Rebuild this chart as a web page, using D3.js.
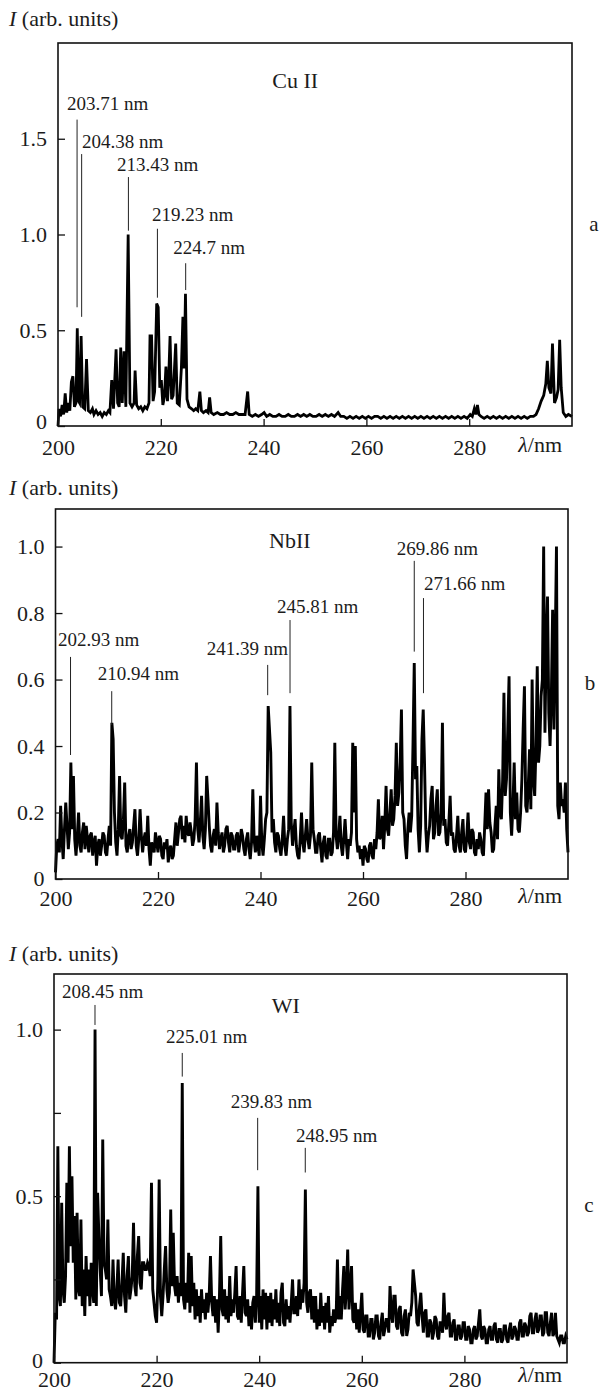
<!DOCTYPE html>
<html>
<head>
<meta charset="utf-8">
<script src="https://cdn.jsdelivr.net/npm/d3@7"></script>
<style>
  body { margin: 0; background: #fff; }
</style>
</head>
<body>
<div id="chart"></div>
<script>
// ------ DATA ------

// x ticks shared by all three panels
const waveTicks = [200, 220, 240, 260, 280]

// Cu II: [wavelength nm, intensity]
const cuSpectrum = [
  [200.0,0.00],[200.2,0.09],[200.5,0.05],[200.8,0.11],[201.1,0.06],[201.4,0.17],[201.7,0.07],[202.0,0.12],
  [202.3,0.08],[202.6,0.23],[202.9,0.26],[203.2,0.10],[203.5,0.12],[203.75,0.51],[204.0,0.13],[204.2,0.12],
  [204.5,0.47],[204.8,0.10],[205.2,0.09],[205.55,0.35],[205.9,0.08],[206.3,0.07],[206.7,0.09],[207.0,0.06],
  [207.4,0.08],[207.8,0.06],[208.2,0.07],[208.6,0.05],[209.0,0.07],[209.4,0.06],[209.8,0.08],[210.1,0.07],
  [210.45,0.24],[210.8,0.09],[211.3,0.40],[211.6,0.12],[211.9,0.10],[212.2,0.41],[212.5,0.12],[212.85,0.39],
  [213.2,0.10],[213.65,1.00],[214.0,0.12],[214.4,0.10],[214.8,0.12],[215.0,0.29],[215.3,0.11],[215.7,0.09],
  [216.1,0.10],[216.5,0.08],[216.9,0.10],[217.3,0.09],[217.7,0.12],[217.9,0.47],[218.2,0.47],[218.5,0.13],
  [218.8,0.18],[219.2,0.64],[219.5,0.62],[219.8,0.20],[220.1,0.24],[220.4,0.11],[220.7,0.15],[221.0,0.31],
  [221.3,0.13],[221.5,0.22],[221.8,0.47],[222.1,0.14],[222.4,0.16],[222.9,0.43],[223.2,0.12],[223.6,0.11],
  [224.0,0.30],[224.3,0.57],[224.55,0.30],[224.8,0.69],[225.1,0.14],[225.5,0.10],[226.0,0.09],[226.4,0.08],
  [226.8,0.09],[227.2,0.08],[227.6,0.18],[227.9,0.08],[228.3,0.07],[228.8,0.08],[229.2,0.07],[229.5,0.15],
  [229.8,0.07],[230.3,0.06],[231.0,0.07],[231.6,0.06],[232.2,0.06],[232.8,0.07],[233.4,0.06],[234.0,0.06],
  [234.6,0.07],[235.2,0.06],[235.8,0.06],[236.4,0.06],[236.9,0.18],[237.2,0.06],[237.8,0.05],[238.4,0.06],
  [239.0,0.05],[239.6,0.06],[240.1,0.07],[240.6,0.05],[241.2,0.06],[241.8,0.05],[242.4,0.05],[243.0,0.06],
  [243.6,0.05],[244.2,0.05],[244.8,0.06],[245.4,0.05],[246.0,0.05],[246.6,0.06],[247.2,0.05],[247.8,0.06],
  [248.4,0.05],[249.0,0.06],[249.6,0.05],[250.2,0.05],[250.8,0.06],[251.4,0.05],[252.0,0.06],[252.6,0.05],
  [253.2,0.06],[253.8,0.05],[254.5,0.07],[255.0,0.05],[255.6,0.05],[256.2,0.04],[256.8,0.05],[257.4,0.04],
  [258.0,0.05],[258.6,0.04],[259.2,0.05],[259.8,0.04],[260.4,0.05],[261.0,0.04],[261.6,0.05],[262.2,0.05],
  [262.8,0.04],[263.4,0.05],[264.0,0.04],[264.6,0.05],[265.2,0.04],[265.8,0.05],[266.4,0.04],[267.0,0.05],
  [267.6,0.04],[268.2,0.05],[268.8,0.04],[269.4,0.05],[270.0,0.04],[270.6,0.05],[271.2,0.04],[271.8,0.05],
  [272.4,0.04],[273.0,0.05],[273.6,0.04],[274.2,0.05],[274.8,0.04],[275.4,0.05],[276.0,0.04],[276.6,0.05],
  [277.2,0.04],[277.8,0.05],[278.4,0.04],[279.0,0.05],[279.6,0.04],[280.2,0.06],[280.6,0.05],[281.0,0.09],
  [281.3,0.06],[281.6,0.11],[281.9,0.06],[282.3,0.05],[282.9,0.04],[283.5,0.05],[284.1,0.04],[284.7,0.05],
  [285.3,0.04],[285.9,0.05],[286.5,0.04],[287.1,0.05],[287.7,0.04],[288.3,0.05],[288.9,0.04],[289.5,0.05],
  [290.1,0.04],[290.7,0.05],[291.3,0.04],[291.9,0.05],[292.5,0.05],[293.0,0.06],[293.5,0.09],[294.0,0.13],
  [294.5,0.16],[294.9,0.22],[295.2,0.34],[295.5,0.20],[295.9,0.17],[296.2,0.43],[296.6,0.12],[297.0,0.15],
  [297.3,0.19],[297.6,0.45],[297.9,0.20],[298.3,0.07],[298.8,0.05],[299.3,0.06],[300.0,0.05]
]
const cuTicks = [0, 0.5, 1.0, 1.5]

// NbII and WI are sampled every 0.25 nm from 200 to 300 nm (one row = 10 nm)
const gridStart = 200
const gridStep = 0.25

const nbIntensity = [
  0.02,0.10,0.12,0.08,0.22,0.12,0.06,0.15,0.23,0.16,0.09,0.14,0.35,0.15,0.31,0.12,0.07,0.13,0.20,0.10,
  0.08,0.14,0.17,0.09,0.16,0.12,0.08,0.13,0.14,0.07,0.11,0.13,0.04,0.10,0.12,0.07,0.10,0.14,0.13,0.08,
  0.07,0.12,0.16,0.10,0.47,0.42,0.20,0.11,0.07,0.15,0.31,0.13,0.12,0.18,0.29,0.10,0.08,0.13,0.15,0.09,
  0.11,0.16,0.21,0.10,0.07,0.12,0.21,0.13,0.08,0.12,0.14,0.10,0.19,0.09,0.04,0.11,0.10,0.08,0.14,0.11,
  0.08,0.13,0.12,0.07,0.06,0.11,0.09,0.12,0.05,0.09,0.10,0.06,0.07,0.12,0.17,0.10,0.14,0.18,0.19,0.12,
  0.16,0.11,0.19,0.14,0.13,0.17,0.14,0.10,0.12,0.18,0.35,0.15,0.11,0.17,0.25,0.13,0.09,0.15,0.31,0.24,
  0.16,0.10,0.08,0.13,0.15,0.10,0.23,0.14,0.09,0.12,0.14,0.08,0.10,0.15,0.16,0.11,0.08,0.14,0.13,0.09,
  0.09,0.13,0.14,0.08,0.11,0.15,0.13,0.09,0.07,0.12,0.14,0.09,0.06,0.11,0.27,0.12,0.08,0.13,0.10,0.07,
  0.25,0.11,0.07,0.12,0.18,0.20,0.52,0.45,0.38,0.14,0.18,0.11,0.08,0.14,0.13,0.09,0.07,0.12,0.19,0.10,
  0.07,0.12,0.15,0.52,0.17,0.10,0.14,0.18,0.10,0.07,0.06,0.12,0.20,0.11,0.08,0.13,0.18,0.12,0.09,0.13,
  0.35,0.15,0.12,0.08,0.08,0.13,0.14,0.09,0.05,0.11,0.13,0.07,0.06,0.12,0.12,0.07,0.08,0.14,0.41,0.13,
  0.09,0.13,0.19,0.10,0.07,0.12,0.18,0.11,0.06,0.12,0.10,0.14,0.41,0.20,0.40,0.12,0.08,0.10,0.06,0.09,
  0.04,0.10,0.09,0.06,0.05,0.10,0.11,0.07,0.06,0.12,0.09,0.14,0.24,0.12,0.13,0.19,0.09,0.16,0.28,0.15,
  0.13,0.20,0.27,0.16,0.18,0.25,0.41,0.22,0.26,0.35,0.51,0.20,0.18,0.10,0.06,0.15,0.20,0.14,0.19,0.40,
  0.65,0.30,0.34,0.15,0.08,0.16,0.42,0.51,0.35,0.15,0.08,0.13,0.16,0.24,0.28,0.12,0.14,0.22,0.27,0.13,
  0.14,0.20,0.47,0.16,0.18,0.11,0.10,0.17,0.25,0.13,0.14,0.09,0.08,0.13,0.19,0.10,0.08,0.14,0.18,0.09,
  0.08,0.13,0.20,0.11,0.09,0.15,0.14,0.08,0.07,0.12,0.09,0.14,0.12,0.08,0.07,0.16,0.26,0.15,0.27,0.17,
  0.14,0.08,0.09,0.16,0.22,0.12,0.33,0.20,0.18,0.30,0.56,0.25,0.30,0.45,0.61,0.20,0.13,0.22,0.35,0.18,
  0.26,0.15,0.14,0.20,0.30,0.45,0.58,0.22,0.20,0.28,0.39,0.21,0.60,0.30,0.25,0.40,0.64,0.35,0.40,0.55,
  0.60,1.00,0.44,0.70,0.85,0.50,0.40,0.55,0.81,0.45,0.70,1.00,0.22,0.18,0.29,0.22,0.24,0.20,0.29,0.15,
  0.08
]
const nbTicks = [0, 0.2, 0.4, 0.6, 0.8, 1.0]

const wIntensity = [
  0.00,0.15,0.13,0.65,0.20,0.17,0.48,0.22,0.18,0.26,0.54,0.30,0.65,0.35,0.56,0.30,0.44,0.19,0.45,0.22,
  0.20,0.43,0.17,0.28,0.14,0.32,0.20,0.28,0.17,0.30,0.22,0.18,1.00,0.17,0.51,0.38,0.28,0.20,0.67,0.30,
  0.28,0.25,0.43,0.22,0.20,0.17,0.31,0.19,0.16,0.22,0.31,0.18,0.17,0.24,0.33,0.20,0.15,0.26,0.32,0.19,
  0.22,0.26,0.42,0.23,0.20,0.32,0.38,0.24,0.22,0.30,0.30,0.28,0.28,0.30,0.29,0.26,0.54,0.22,0.18,0.14,
  0.12,0.25,0.55,0.20,0.14,0.20,0.28,0.35,0.22,0.18,0.21,0.46,0.23,0.39,0.23,0.20,0.26,0.18,0.24,0.20,
  0.84,0.19,0.16,0.24,0.18,0.33,0.15,0.32,0.17,0.24,0.13,0.22,0.14,0.20,0.12,0.22,0.15,0.19,0.13,0.21,
  0.15,0.20,0.32,0.18,0.14,0.20,0.12,0.19,0.09,0.20,0.38,0.16,0.14,0.22,0.13,0.20,0.12,0.26,0.14,0.19,
  0.15,0.21,0.29,0.14,0.13,0.20,0.12,0.21,0.29,0.15,0.14,0.19,0.11,0.17,0.10,0.18,0.20,0.12,0.20,0.53,
  0.12,0.20,0.10,0.22,0.13,0.21,0.10,0.20,0.12,0.21,0.11,0.19,0.13,0.22,0.12,0.18,0.11,0.21,0.24,0.12,
  0.11,0.19,0.13,0.17,0.12,0.18,0.25,0.15,0.15,0.20,0.14,0.25,0.16,0.22,0.18,0.24,0.52,0.18,0.15,0.21,
  0.22,0.13,0.20,0.12,0.20,0.10,0.16,0.11,0.21,0.12,0.17,0.10,0.18,0.12,0.20,0.09,0.14,0.11,0.16,0.12,
  0.14,0.31,0.13,0.20,0.13,0.22,0.29,0.16,0.22,0.34,0.16,0.22,0.29,0.13,0.12,0.18,0.10,0.16,0.09,0.15,
  0.21,0.10,0.09,0.14,0.14,0.08,0.08,0.13,0.13,0.07,0.09,0.14,0.14,0.08,0.07,0.12,0.15,0.08,0.10,0.13,
  0.13,0.09,0.23,0.15,0.12,0.20,0.20,0.11,0.10,0.16,0.17,0.09,0.08,0.14,0.16,0.08,0.10,0.15,0.14,0.18,
  0.28,0.24,0.20,0.12,0.11,0.17,0.21,0.14,0.09,0.15,0.16,0.08,0.08,0.13,0.12,0.07,0.09,0.14,0.13,0.08,
  0.07,0.12,0.12,0.09,0.21,0.12,0.10,0.14,0.15,0.08,0.08,0.12,0.13,0.07,0.07,0.11,0.11,0.07,0.08,0.12,
  0.12,0.07,0.07,0.11,0.10,0.06,0.06,0.10,0.11,0.07,0.08,0.12,0.16,0.08,0.07,0.11,0.10,0.06,0.06,0.10,
  0.11,0.07,0.07,0.11,0.12,0.07,0.06,0.10,0.10,0.06,0.07,0.11,0.11,0.07,0.06,0.10,0.12,0.07,0.08,0.11,
  0.10,0.07,0.07,0.12,0.13,0.08,0.08,0.12,0.11,0.08,0.09,0.14,0.15,0.09,0.09,0.13,0.15,0.09,0.10,0.14,
  0.14,0.08,0.09,0.15,0.15,0.09,0.08,0.12,0.15,0.08,0.09,0.15,0.08,0.07,0.06,0.08,0.08,0.06,0.06,0.08,
  0.07
]
const wTicks = [0, 0.25, 0.5, 0.75, 1.0]
const wTickLabels = ["0", "", "0.5", "", "1.0"]

// Line labels: label text, line wavelength, leader top / bottom (intensity),
// label start (nm) and label baseline (intensity)
const cuLines = [
  ["203.71 nm", 203.71, 1.60, 0.62, 201.75, 1.65],
  ["204.38 nm", 204.6, 1.42, 0.57, 204.67, 1.45],
  ["213.43 nm", 213.7, 1.30, 1.02, 211.48, 1.33],
  ["219.23 nm", 219.34, 1.03, 0.67, 218.29, 1.07],
  ["224.7 nm", 224.84, 0.85, 0.71, 222.4, 0.90]
]
const nbLines = [
  ["202.93 nm", 202.93, 0.668, 0.373, 200.49, 0.70],
  ["210.94 nm", 210.97, 0.565, 0.463, 208.23, 0.60],
  ["241.39 nm", 241.40, 0.644, 0.553, 229.5, 0.674],
  ["245.81 nm", 245.76, 0.779, 0.559, 243.22, 0.80],
  ["269.86 nm", 270.0, 0.957, 0.684, 266.58, 0.974],
  ["271.66 nm", 271.8, 0.845, 0.559, 271.9, 0.869]
]
const wLines = [
  ["208.45 nm", 207.99, 1.074, 1.014, 201.56, 1.095],
  ["225.01 nm", 225.0, 0.93, 0.859, 221.83, 0.96],
  ["239.83 nm", 239.7, 0.735, 0.578, 234.45, 0.765],
  ["248.95 nm", 248.98, 0.645, 0.571, 247.17, 0.664]
]

// ------ LAYOUT ------
const width = 601, height = 1391
const serif = "'Liberation Serif', 'Times New Roman', serif"
const ink = "#1c1c1c"

const svg = d3.select("#chart").append("svg")
  .attr("width", width)
  .attr("height", height)
  .attr("font-family", serif)

const toPairs = (vals) => vals.map((v, i) => [gridStart + i * gridStep, v])

const panels = [
  {spectrum: cuSpectrum, ticks: cuTicks, tickLabels: null, lines: cuLines,
   title: "Cu II", titleAt: [241.7, 1.765], letter: "a", letterAt: [594, 224],
   left: 58, right: 572, top: 43, bottom: 426, yMax: 2.0, lineW: 2.8,
   xPad: 13, xLabelDy: 26, yLabelDy: 17, zeroDy: -5},
  {spectrum: toPairs(nbIntensity), ticks: nbTicks, tickLabels: null, lines: nbLines,
   title: "NbII", titleAt: [241.66, 0.995], letter: "b", letterAt: [590, 683],
   left: 55.5, right: 568, top: 509, bottom: 879, yMax: 1.113, lineW: 2.9,
   xPad: 11, xLabelDy: 24, yLabelDy: 14, zeroDy: -1},
  {spectrum: toPairs(wIntensity), ticks: wTicks, tickLabels: wTickLabels, lines: wLines,
   title: "WI", titleAt: [242.44, 1.05], letter: "c", letterAt: [589, 1205],
   left: 54, right: 567, top: 974, bottom: 1362.7, yMax: 1.167, lineW: 2.9,
   xPad: 9, xLabelDy: 19, yLabelDy: 13, zeroDy: -2}
]

panels.forEach(drawPanel)

function drawPanel(p) {
  const x = d3.scaleLinear().domain([200, 300]).range([p.left, p.right])
  const y = d3.scaleLinear().domain([0, p.yMax]).range([p.bottom, p.top])
  const g = svg.append("g")

  // spectrum
  g.append("path")
    .datum(p.spectrum)
    .attr("d", d3.line().x(d => x(d[0])).y(d => y(d[1])))
    .attr("fill", "none")
    .attr("stroke", "#000")
    .attr("stroke-width", p.lineW)

  // frame
  g.append("rect")
    .attr("x", p.left).attr("y", p.top)
    .attr("width", p.right - p.left).attr("height", p.bottom - p.top)
    .attr("fill", "none").attr("stroke", "#111").attr("stroke-width", 1.6)

  // axes, ticks point inward
  const xAxis = g.append("g")
    .attr("transform", `translate(0,${p.bottom})`)
    .call(d3.axisBottom(x).tickValues(waveTicks).tickSize(-7).tickPadding(p.xPad).tickFormat(d3.format("d")))
  const yAxis = g.append("g")
    .attr("transform", `translate(${p.left},0)`)
    .call(d3.axisLeft(y).tickValues(p.ticks).tickSize(-7).tickPadding(11)
      .tickFormat((d, i) => p.tickLabels ? p.tickLabels[i] : (d === 0 ? "0" : d.toFixed(1))))

  ;[xAxis, yAxis].forEach(ax => {
    ax.attr("font-family", serif)
    ax.select(".domain").remove()
    ax.selectAll(".tick line").attr("stroke", "#111").attr("stroke-width", 1.3)
    ax.selectAll(".tick text").attr("font-size", 22).attr("fill", ink)
  })
  yAxis.selectAll(".tick text").filter(d => d === 0).attr("y", p.zeroDy)

  // axis titles
  const yl = g.append("text")
    .attr("x", 9).attr("y", p.top - p.yLabelDy)
    .attr("font-size", 22).attr("fill", ink)
  yl.append("tspan").attr("font-style", "italic").text("I")
  yl.append("tspan").text(" (arb. units)")

  const xl = g.append("text")
    .attr("x", 562).attr("y", p.bottom + p.xLabelDy)
    .attr("text-anchor", "end")
    .attr("font-size", 22).attr("fill", ink)
  xl.append("tspan").attr("font-style", "italic").text("λ")
  xl.append("tspan").text("/nm")

  // element name and panel letter
  g.append("text")
    .attr("x", x(p.titleAt[0])).attr("y", y(p.titleAt[1]))
    .attr("font-size", 22).attr("fill", ink)
    .text(p.title)

  g.append("text")
    .attr("x", p.letterAt[0]).attr("y", p.letterAt[1])
    .attr("text-anchor", "middle").attr("dominant-baseline", "central")
    .attr("font-size", 21).attr("fill", ink)
    .text(p.letter)

  // line labels with leaders
  p.lines.forEach(l => {
    g.append("line")
      .attr("x1", x(l[1])).attr("x2", x(l[1]))
      .attr("y1", y(l[2])).attr("y2", y(l[3]))
      .attr("stroke", "#222").attr("stroke-width", 1)
    g.append("text")
      .attr("x", x(l[4])).attr("y", y(l[5]))
      .attr("font-size", 19).attr("fill", ink)
      .text(l[0])
  })
}
</script>
</body>
</html>
